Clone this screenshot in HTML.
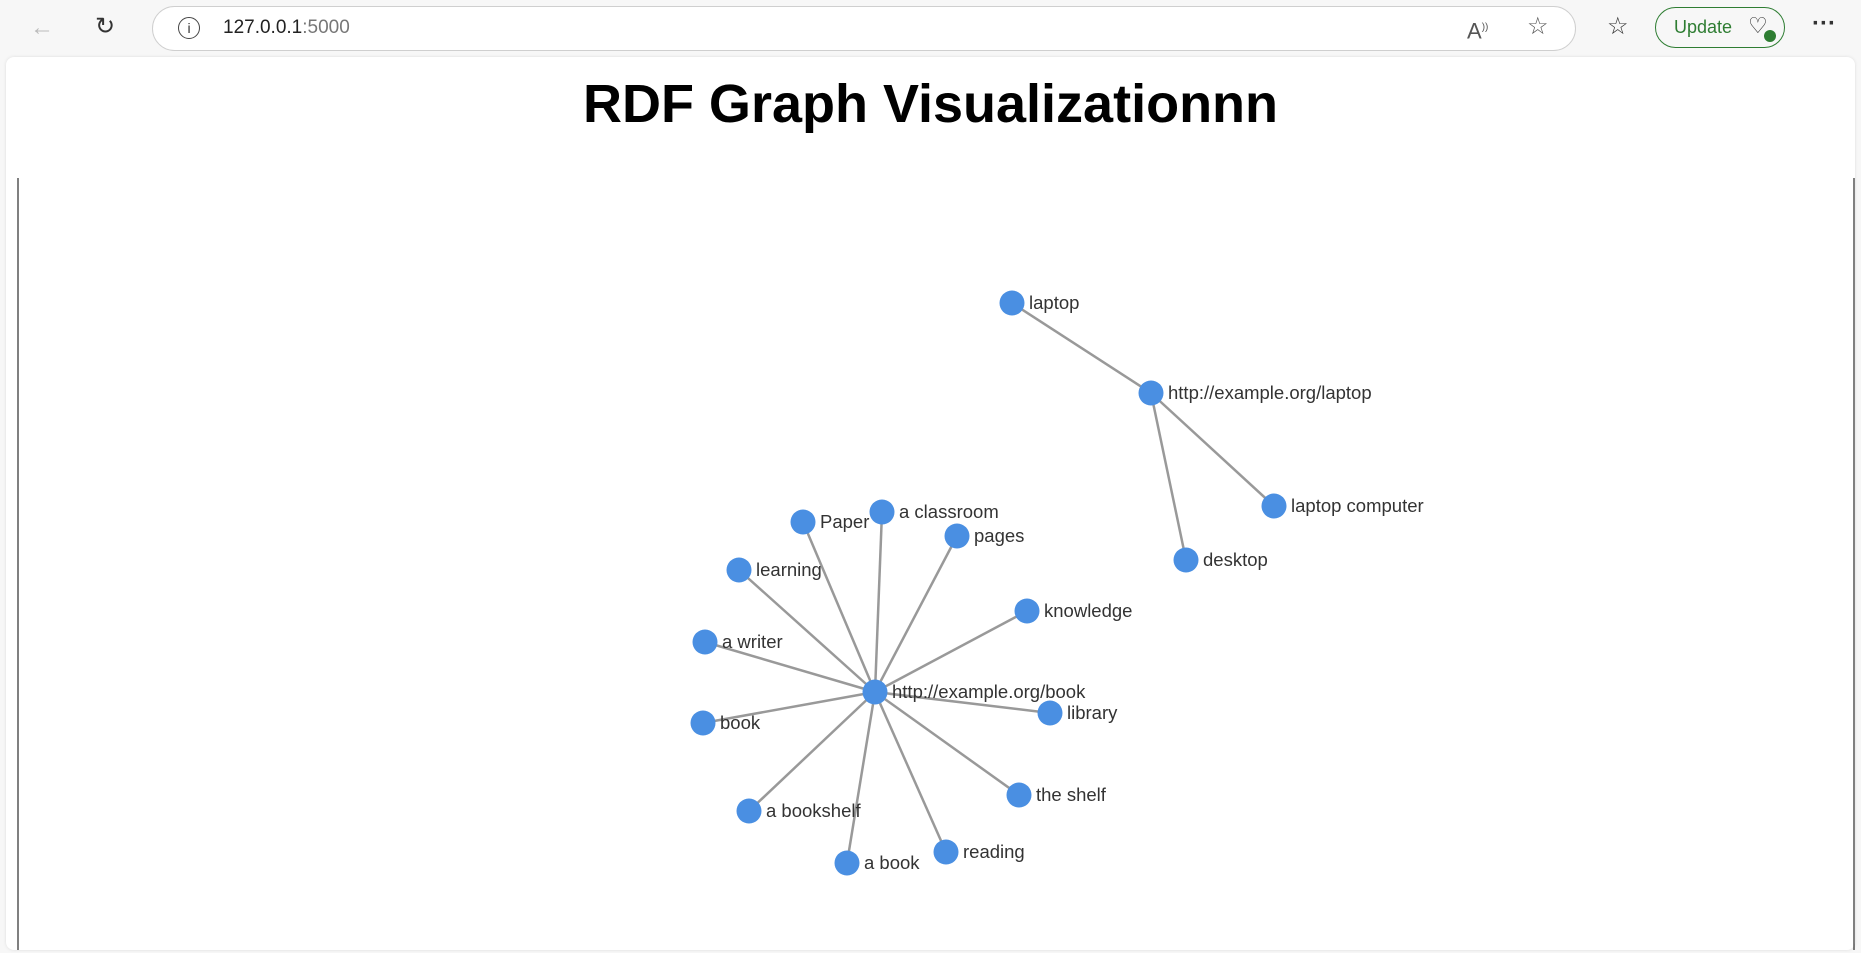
<!DOCTYPE html>
<html><head><meta charset="utf-8"><style>
html,body{margin:0;padding:0;width:1861px;height:953px;overflow:hidden;background:#f7f7f7;font-family:"Liberation Sans",Arial,sans-serif;}
.bar{position:absolute;left:0;top:0;width:1861px;height:57px;background:#f7f7f7;}
.addr{position:absolute;left:152px;top:6px;width:1422px;height:43px;border:1px solid #cfcfcf;border-radius:23px;background:#fff;}
.url{position:absolute;left:223px;top:17px;font-size:19px;color:#222;}
.url span{color:#777}
.ic{position:absolute;color:#333;font-size:24px;line-height:24px;}
.upd{position:absolute;left:1655px;top:7px;width:130px;height:41px;border:1.5px solid #2e7d32;border-radius:22px;box-sizing:border-box;color:#2e7d32;font-size:18px;}
.page{position:absolute;left:6px;top:57px;width:1849px;height:893px;background:#fff;border-radius:8px;box-shadow:0 0 3px #ddd;}
h1{position:absolute;left:0;top:69px;width:1861px;margin:0;text-align:center;font-size:54px;font-weight:bold;color:#000;line-height:70px;}
svg{position:absolute;left:0;top:0;}
svg text{font-family:"Liberation Sans",Arial,sans-serif;font-size:18.5px;fill:#333;}
</style></head><body>
<div class="bar">
<div class="ic" style="left:30px;top:16px;color:#bbb">&#8592;</div>
<div class="ic" style="left:95px;top:15px;">&#8635;</div>
<div class="addr"></div>
<div class="ic" style="left:178px;top:17px;font-size:20px;width:20px;height:20px;border:1.5px solid #444;border-radius:50%;text-align:center;line-height:20px;font-size:14px;">i</div>
<div class="url">127.0.0.1<span>:5000</span></div>
<div class="ic" style="left:1467px;top:16px;color:#555;font-size:22px;">A<sup style="font-size:10px">))</sup></div>
<div class="ic" style="left:1527px;top:15px;color:#555;">&#9734;</div>
<div class="ic" style="left:1607px;top:15px;">&#9734;</div>
<div class="upd"><span style="position:absolute;left:18px;top:9px;">Update</span><span style="position:absolute;left:92px;top:5px;font-size:22px;color:#333">&#9825;</span><span style="position:absolute;left:108px;top:22px;width:12px;height:12px;border-radius:50%;background:#2e7d32"></span></div>
<div class="ic" style="left:1812px;top:12px;font-weight:bold;">&middot;&middot;&middot;</div>
</div>
<div class="page"></div>
<h1>RDF Graph Visualizationnn</h1>
<svg width="1861" height="953">
<line x1="18" y1="178" x2="18" y2="950" stroke="#000" stroke-width="1"/>
<line x1="1854" y1="178" x2="1854" y2="950" stroke="#000" stroke-width="1"/>
<g stroke="#999" stroke-width="2.5">
<line x1="875" y1="692" x2="803" y2="522"/>
<line x1="875" y1="692" x2="882" y2="512"/>
<line x1="875" y1="692" x2="957" y2="536"/>
<line x1="875" y1="692" x2="739" y2="570"/>
<line x1="875" y1="692" x2="1027" y2="611"/>
<line x1="875" y1="692" x2="705" y2="642"/>
<line x1="875" y1="692" x2="1050" y2="713"/>
<line x1="875" y1="692" x2="703" y2="723"/>
<line x1="875" y1="692" x2="1019" y2="795"/>
<line x1="875" y1="692" x2="749" y2="811"/>
<line x1="875" y1="692" x2="946" y2="852"/>
<line x1="875" y1="692" x2="847" y2="863"/>
<line x1="1151" y1="393" x2="1012" y2="303"/>
<line x1="1151" y1="393" x2="1274" y2="506"/>
<line x1="1151" y1="393" x2="1186" y2="560"/>
</g>
<g fill="#4a8fe2">
<circle cx="875" cy="692" r="12.5"/><circle cx="803" cy="522" r="12.5"/><circle cx="882" cy="512" r="12.5"/>
<circle cx="957" cy="536" r="12.5"/><circle cx="739" cy="570" r="12.5"/><circle cx="1027" cy="611" r="12.5"/>
<circle cx="705" cy="642" r="12.5"/><circle cx="1050" cy="713" r="12.5"/><circle cx="703" cy="723" r="12.5"/>
<circle cx="1019" cy="795" r="12.5"/><circle cx="749" cy="811" r="12.5"/><circle cx="946" cy="852" r="12.5"/>
<circle cx="847" cy="863" r="12.5"/>
<circle cx="1012" cy="303" r="12.5"/><circle cx="1151" cy="393" r="12.5"/><circle cx="1274" cy="506" r="12.5"/><circle cx="1186" cy="560" r="12.5"/>
</g>
<g>
<text x="892" y="698">http://example.org/book</text>
<text x="820" y="528">Paper</text>
<text x="899" y="518">a classroom</text>
<text x="974" y="542">pages</text>
<text x="756" y="576">learning</text>
<text x="1044" y="617">knowledge</text>
<text x="722" y="648">a writer</text>
<text x="1067" y="719">library</text>
<text x="720" y="729">book</text>
<text x="1036" y="801">the shelf</text>
<text x="766" y="817">a bookshelf</text>
<text x="963" y="858">reading</text>
<text x="864" y="869">a book</text>
<text x="1029" y="309">laptop</text>
<text x="1168" y="399">http://example.org/laptop</text>
<text x="1291" y="512">laptop computer</text>
<text x="1203" y="566">desktop</text>
</g>
</svg>
</body></html>
